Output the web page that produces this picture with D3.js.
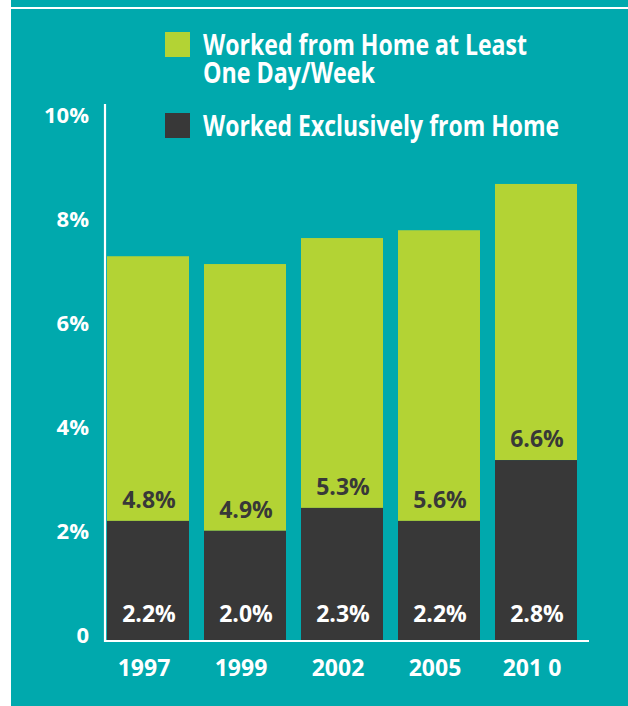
<!DOCTYPE html>
<html>
<head>
<meta charset="utf-8">
<script src="https://cdn.jsdelivr.net/npm/d3@7"></script>
<style>
  html, body { margin: 0; padding: 0; background: #ffffff; }
  svg { display: block; }
  text { font-family: "Open Sans", "DejaVu Sans", sans-serif; font-weight: 700; }
</style>
</head>
<body>
<script>
// ---- data ----
const years = ["1997", "1999", "2002", "2005", "2010"];
const yearLabels = ["1997", "1999", "2002", "2005", "201 0"];
// drawn bar heights (in %), as measured on the picture
const exclusiveHeights = [2.29, 2.10, 2.54, 2.29, 3.46];
const atLeastHeights = [5.09, 5.13, 5.19, 5.59, 5.31];
// printed value labels
const exclusiveLabels = ["2.2%", "2.0%", "2.3%", "2.2%", "2.8%"];
const atLeastLabels = ["4.8%", "4.9%", "5.3%", "5.6%", "6.6%"];
const yTicks = [0, 2, 4, 6, 8, 10];
const legendItems = [
  { lines: ["Worked from Home at Least", "One Day/Week"], key: "atLeast" },
  { lines: ["Worked Exclusively from Home"], key: "exclusive" }
];

const W = 628, H = 706;
const teal = "#00A9AD", green = "#B3D334", dark = "#383838";

const svg = d3.select("body").append("svg").attr("width", W).attr("height", H);

// background panel
svg.append("rect").attr("x", 11).attr("y", 0).attr("width", W - 11).attr("height", H).attr("fill", teal);
svg.append("rect").attr("x", 11).attr("y", 7).attr("width", W - 11).attr("height", 2).attr("fill", "#ffffff");

const x = d3.scaleBand().domain(years).range([107, 577]).paddingInner(15 / 97).paddingOuter(0);
const y = d3.scaleLinear().domain([0, 10]).range([640, 120]);

const rows = years.map((yr, i) => ({
  year: yr,
  label: yearLabels[i],
  ex: exclusiveHeights[i],
  al: atLeastHeights[i],
  exLabel: exclusiveLabels[i],
  alLabel: atLeastLabels[i]
}));

// bars
const g = svg.append("g");
g.selectAll("rect.al").data(rows).join("rect")
  .attr("class", "al")
  .attr("x", d => x(d.year))
  .attr("width", x.bandwidth())
  .attr("y", d => y(d.ex + d.al))
  .attr("height", d => y(d.ex) - y(d.ex + d.al))
  .attr("fill", green);
g.selectAll("rect.ex").data(rows).join("rect")
  .attr("class", "ex")
  .attr("x", d => x(d.year))
  .attr("width", x.bandwidth())
  .attr("y", d => y(d.ex))
  .attr("height", d => y(0) - y(d.ex))
  .attr("fill", dark);

// value labels
g.selectAll("text.exl").data(rows).join("text")
  .attr("class", "exl")
  .attr("x", d => x(d.year) + x.bandwidth() / 2 + 1)
  .attr("y", y(0) - 18)
  .attr("text-anchor", "middle")
  .attr("font-size", 23)
  .attr("fill", "#ffffff")
  .text(d => d.exLabel);
g.selectAll("text.all").data(rows).join("text")
  .attr("class", "all")
  .attr("x", d => x(d.year) + x.bandwidth() / 2 + 1)
  .attr("y", d => y(d.ex) - 13)
  .attr("text-anchor", "middle")
  .attr("font-size", 23)
  .attr("fill", dark)
  .text(d => d.alLabel);

// y axis
const yAxis = d3.axisLeft(y).tickValues(yTicks).tickSize(0).tickPadding(0)
  .tickFormat(v => v === 0 ? "0" : v + "%");
const ya = svg.append("g").attr("transform", "translate(89,0)").call(yAxis);
ya.select(".domain").remove();
ya.selectAll("text")
  .attr("x", 0).attr("dy", "0").attr("y", 2)
  .attr("fill", "#ffffff")
  .attr("font-size", 22)
  .attr("font-family", "'Open Sans', sans-serif")
  .attr("font-weight", 700);

// axis lines
svg.append("line").attr("x1", 105).attr("x2", 105).attr("y1", 104).attr("y2", 642)
  .attr("stroke", "#ffffff").attr("stroke-width", 2.2);
svg.append("line").attr("x1", 104).attr("x2", 589).attr("y1", 641).attr("y2", 641)
  .attr("stroke", "#ffffff").attr("stroke-width", 2.2);

// x axis
const xAxis = d3.axisBottom(x).tickSize(0).tickPadding(0).tickFormat((d, i) => yearLabels[i]);
const xa = svg.append("g").attr("transform", "translate(-4,676)").call(xAxis);
xa.select(".domain").remove();
xa.selectAll("text")
  .attr("y", 0).attr("dy", "0")
  .attr("fill", "#ffffff")
  .attr("font-size", 23)
  .attr("font-family", "'Open Sans', sans-serif")
  .attr("font-weight", 700);

// legend
const legendWidths = [[324, 172], [356]];
const legendTop = [32, 113];
const legendColor = { atLeast: green, exclusive: dark };
legendItems.forEach((item, i) => {
  const lg = svg.append("g");
  lg.append("rect").attr("x", 165).attr("y", legendTop[i]).attr("width", 25).attr("height", 25)
    .attr("fill", legendColor[item.key]);
  item.lines.forEach((ln, j) => {
    lg.append("text")
      .attr("x", 203)
      .attr("y", legendTop[i] + 23 + j * 28)
      .attr("font-size", 28)
      .attr("fill", "#ffffff")
      .attr("textLength", legendWidths[i][j])
      .attr("lengthAdjust", "spacingAndGlyphs")
      .text(ln);
  });
});
</script>
</body>
</html>
